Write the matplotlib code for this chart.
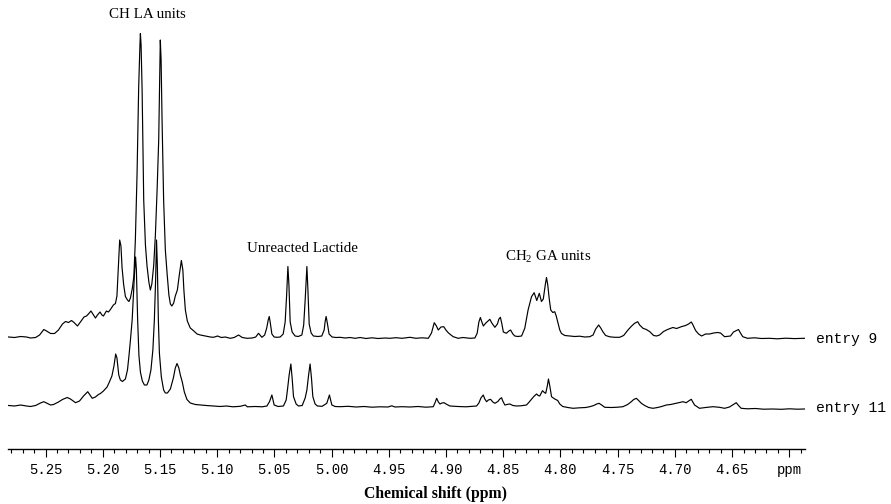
import matplotlib
matplotlib.use("Agg")
import matplotlib.pyplot as plt
from matplotlib.ticker import FixedLocator, MultipleLocator

# ---------------- data ----------------
# entry 9 trace: chemical shift (ppm) and intensity (arbitrary units, baseline = 0)
entry9_ppm = [5.2823, 5.2771, 5.2718, 5.2666, 5.2631, 5.2587, 5.2552, 5.2515, 5.2491, 5.2456,
              5.2421, 5.2387, 5.2352, 5.2325, 5.2299, 5.2273, 5.2251, 5.2221, 5.2195, 5.2164,
              5.2142, 5.2125, 5.2103, 5.2086, 5.2064, 5.2046, 5.2024, 5.2007, 5.1994, 5.1968,
              5.1950, 5.1933, 5.1907, 5.1889, 5.1876, 5.1863, 5.1852, 5.1841, 5.1831, 5.1817,
              5.1802, 5.1784, 5.1771, 5.1758, 5.1741, 5.1728, 5.1715, 5.1700, 5.1686, 5.1675,
              5.1671, 5.1665, 5.1656, 5.1642, 5.1627, 5.1613, 5.1597, 5.1584, 5.1571, 5.1555,
              5.1540, 5.1525, 5.1511, 5.1503, 5.1497, 5.1490, 5.1482, 5.1468, 5.1453, 5.1438,
              5.1422, 5.1409, 5.1396, 5.1380, 5.1366, 5.1348, 5.1331, 5.1313, 5.1300, 5.1291,
              5.1278, 5.1261, 5.1235, 5.1204, 5.1176, 5.1147, 5.1104, 5.1060, 5.1031, 5.0997,
              5.0964, 5.0929, 5.0886, 5.0851, 5.0813, 5.0781, 5.0740, 5.0694, 5.0663, 5.0639,
              5.0609, 5.0585, 5.0567, 5.0554, 5.0545, 5.0537, 5.0522, 5.0502, 5.0478, 5.0449,
              5.0423, 5.0406, 5.0393, 5.0382, 5.0373, 5.0362, 5.0345, 5.0319, 5.0292, 5.0260,
              5.0244, 5.0231, 5.0216, 5.0207, 5.0196, 5.0179, 5.0159, 5.0118, 5.0086, 5.0065,
              5.0057, 5.0048, 5.0039, 5.0022, 4.9996, 4.9961, 4.9926, 4.9882, 4.9839, 4.9795,
              4.9751, 4.9699, 4.9647, 4.9594, 4.9533, 4.9490, 4.9437, 4.9385, 4.9315, 4.9263,
              4.9210, 4.9155, 4.9127, 4.9103, 4.9084, 4.9068, 4.9044, 4.9020, 4.9001, 4.8981,
              4.8957, 4.8937, 4.8894, 4.8853, 4.8791, 4.8748, 4.8728, 4.8713, 4.8700, 4.8687,
              4.8674, 4.8652, 4.8617, 4.8600, 4.8573, 4.8551, 4.8538, 4.8525, 4.8512, 4.8499,
              4.8473, 4.8451, 4.8436, 4.8416, 4.8399, 4.8373, 4.8340, 4.8312, 4.8283, 4.8253,
              4.8230, 4.8207, 4.8185, 4.8166, 4.8150, 4.8133, 4.8122, 4.8111, 4.8099, 4.8085,
              4.8067, 4.8050, 4.8037, 4.8021, 4.8006, 4.7991, 4.7962, 4.7919, 4.7875, 4.7832,
              4.7788, 4.7744, 4.7715, 4.7692, 4.7666, 4.7648, 4.7628, 4.7605, 4.7570, 4.7526,
              4.7483, 4.7448, 4.7410, 4.7378, 4.7352, 4.7325, 4.7308, 4.7279, 4.7250, 4.7221,
              4.7186, 4.7160, 4.7134, 4.7099, 4.7064, 4.7018, 4.6985, 4.6944, 4.6907, 4.6880,
              4.6857, 4.6846, 4.6819, 4.6793, 4.6767, 4.6732, 4.6697, 4.6662, 4.6627, 4.6601,
              4.6566, 4.6514, 4.6488, 4.6462, 4.6444, 4.6427, 4.6407, 4.6366, 4.6305, 4.6243,
              4.6174, 4.6104, 4.6034, 4.5955, 4.5868]
entry9_int = [0.5, 0, 1, 0.5, -0.5, 0, 2.5, 8, 6.5, 4,
              4, 7.5, 13.5, 16, 15, 17, 15, 11.5, 15.5, 20.5,
              21.5, 23.5, 26.5, 23.5, 19.5, 22.5, 25.5, 22.5, 21.5, 26.5,
              25.5, 28, 32.5, 34, 41.5, 72.5, 97.5, 91.5, 69.5, 52.5,
              41, 37.5, 36, 39.5, 49.5, 61.5, 97.5, 164.5, 250.5, 292.5,
              304, 292.5, 247.5, 137.5, 92.5, 71.5, 55.5, 47.5, 53.5, 71.5,
              102.5, 147.5, 197.5, 257.5, 297.5, 277.5, 219.5, 137.5, 87.5, 64.5,
              42.5, 33.5, 31.5, 34.5, 41.5, 47.5, 62.5, 77, 67.5, 47.5,
              27.5, 16.5, 9.5, 6.5, 3.5, 2.5, 1.5, 0.5, 0.2, 1.5,
              0, 0.5, -0.8, 0, 2.5, 0, -0.8, -0.5, 0.5, 4.2,
              0.2, 2.5, 9.5, 17.5, 21, 15.5, 3.5, 0.5, 0.2, 0.5,
              3.5, 15.5, 42.5, 71, 52.5, 15.5, 5.5, 1.5, 1, 2.5,
              12.5, 37.5, 71, 47.5, 13.5, 4.5, 1.5, 1, 1.5, 7.5,
              15.5, 21, 15.5, 3.5, 0.5, 0, 0.2, -0.5, 0, -0.8,
              0, -1, -0.3, -1, -0.5, -0.8, -0.2, -0.8, 0.2, -0.8,
              -0.3, -0.8, 4.5, 14.8, 11.5, 7.5, 10.5, 10.8, 7.5, 4.8,
              2.5, 0.8, -0.8, 0, -0.8, -0.5, 4.2, 15.5, 20, 15.5,
              11.5, 14.5, 18.2, 14.5, 10.2, 13.5, 18.5, 20.2, 13.5, 5.5,
              4.2, 6.5, 7.5, 3.5, 1.5, 1, 1.5, 9.2, 27.5, 40.8,
              44.8, 37, 44.2, 36, 38.5, 52.5, 60, 52.5, 39.5, 27.5,
              25, 25.8, 21.5, 14.2, 7.5, 4, 2, 1.5, 1, 1.3,
              0.5, 0.8, 2.5, 8.5, 12.5, 9.5, 5.5, 2, 0.7, 0.2,
              0.2, 2, 7.5, 11.5, 14.2, 15.8, 12.5, 9.2, 8, 6,
              2, 1.5, 2.5, 6, 8, 10, 9, 10.8, 12, 13.5,
              15.5, 13.5, 7, 3.5, 1.5, 3.5, 3.5, 4.5, 5, 4.5,
              0.8, 1.5, 5.5, 7, 8, 4.5, 0.8, -0.8, -0.3, -1,
              -0.8, -1.3, -0.7, -1.1, -0.8]

# entry 11 trace
entry11_ppm = [5.2823, 5.2771, 5.2718, 5.2666, 5.2631, 5.2587, 5.2544, 5.2515, 5.2483, 5.2456,
               5.2430, 5.2387, 5.2352, 5.2311, 5.2282, 5.2238, 5.2203, 5.2168, 5.2131, 5.2112,
               5.2092, 5.2064, 5.2038, 5.2020, 5.1994, 5.1962, 5.1942, 5.1920, 5.1902, 5.1887,
               5.1876, 5.1860, 5.1846, 5.1828, 5.1802, 5.1784, 5.1771, 5.1758, 5.1743, 5.1732,
               5.1721, 5.1713, 5.1706, 5.1695, 5.1684, 5.1671, 5.1654, 5.1636, 5.1614, 5.1597,
               5.1579, 5.1562, 5.1549, 5.1538, 5.1530, 5.1523, 5.1514, 5.1505, 5.1488, 5.1468,
               5.1453, 5.1435, 5.1409, 5.1383, 5.1366, 5.1351, 5.1335, 5.1322, 5.1305, 5.1287,
               5.1264, 5.1235, 5.1191, 5.1147, 5.1095, 5.1031, 5.0973, 5.0921, 5.0860, 5.0798,
               5.0755, 5.0737, 5.0667, 5.0606, 5.0565, 5.0543, 5.0522, 5.0502, 5.0467, 5.0421,
               5.0397, 5.0386, 5.0371, 5.0356, 5.0345, 5.0333, 5.0310, 5.0290, 5.0257, 5.0231,
               5.0216, 5.0201, 5.0188, 5.0176, 5.0164, 5.0144, 5.0124, 5.0083, 5.0042, 5.0019,
               4.9998, 4.9969, 4.9926, 4.9856, 4.9786, 4.9716, 4.9647, 4.9577, 4.9507, 4.9475,
               4.9446, 4.9385, 4.9315, 4.9245, 4.9175, 4.9112, 4.9097, 4.9082, 4.9067, 4.9053,
               4.9036, 4.9018, 4.8992, 4.8966, 4.8896, 4.8826, 4.8733, 4.8713, 4.8695, 4.8675,
               4.8661, 4.8646, 4.8630, 4.8611, 4.8591, 4.8573, 4.8547, 4.8530, 4.8515, 4.8504,
               4.8486, 4.8460, 4.8442, 4.8416, 4.8384, 4.8346, 4.8297, 4.8277, 4.8253, 4.8233,
               4.8209, 4.8194, 4.8181, 4.8168, 4.8157, 4.8141, 4.8129, 4.8115, 4.8105, 4.8093,
               4.8078, 4.8050, 4.8024, 4.8006, 4.7980, 4.7936, 4.7890, 4.7832, 4.7779, 4.7744,
               4.7709, 4.7683, 4.7663, 4.7640, 4.7613, 4.7552, 4.7500, 4.7454, 4.7413, 4.7381,
               4.7360, 4.7337, 4.7317, 4.7293, 4.7264, 4.7229, 4.7192, 4.7151, 4.7116, 4.7075,
               4.7037, 4.6988, 4.6959, 4.6930, 4.6901, 4.6880, 4.6857, 4.6846, 4.6828, 4.6802,
               4.6785, 4.6732, 4.6668, 4.6610, 4.6566, 4.6523, 4.6488, 4.6464, 4.6444, 4.6421,
               4.6366, 4.6296, 4.6226, 4.6147, 4.6069, 4.6000, 4.5929, 4.5868]
entry11_int = [1, 0.5, 1.5, 0.5, 0, 1, 3.5, 4.8, 3, 1.5,
               2, 4.5, 7, 9, 7.5, 3.8, 5.5, 10.5, 14.8, 11.5,
               8.2, 9.5, 12, 13, 15.5, 19.5, 24.5, 30.5, 40.5, 52.5,
               48.5, 31.5, 26.5, 25, 27.5, 36.5, 50.5, 66.5, 86.5, 111.5,
               136.5, 149.5, 136.5, 86.5, 51.5, 34.5, 25.5, 21.5, 21.5, 26.5,
               36.5, 56.5, 86.5, 126.5, 166.5, 141.5, 86.5, 53.5, 29.5, 16.5,
               13.5, 13.5, 17.5, 28.5, 38.5, 43, 38.5, 31.5, 24.5, 14.5,
               7, 3.5, 2, 1.5, 1, 0.5, 0, 0.5, -0.3, 0.2,
               1.5, -0.3, 0, -0.3, 0.5, 4.8, 11.5, 1.5, 0, 0.5,
               6.5, 16.5, 31.5, 42.5, 28.5, 9.8, 2.5, 0.5, 1, 8.5,
               16.5, 31.5, 42.5, 28.5, 9.8, 2.5, 0.5, 0.2, 3.2, 11.5,
               1.5, 0, -0.2, 0.2, -0.5, 0, -0.7, -0.3, -0.5, 0.7,
               -0.5, -0.2, -0.5, 0, -0.7, -0.2, 3.5, 8.2, 4.5, 2.5,
               3.5, 3.8, 2, 0.5, 0, -0.3, 0.5, 3.5, 8.5, 11.5,
               7.5, 4.8, 6.5, 7.2, 4.5, 3.2, 5, 7.5, 8.8, 5.5,
               1.5, 2.2, 2.5, 1, 0.5, 0.7, 1.5, 4, 7.2, 10,
               12.5, 11, 10.5, 13.5, 15.8, 14, 13.2, 20.5, 27.5, 20.5,
               9.8, 7.5, 6, 2.5, 0, -1, -1.8, -1.3, -1, -0.2,
               1, 2.5, 3.2, 1.5, -0.8, -1, -0.7, -0.2, 2, 4.8,
               7, 8.2, 6, 3.2, 1, -1, -1.8, -1, 0, 1.5,
               2, 3.2, 4, 4.8, 3.8, 5.5, 7.2, 5, 1.5, -0.5,
               -1.8, -1, -0.2, -0.8, -1.8, -0.5, 2, 3.8, 1, -1.8,
               -2.3, -2, -2.7, -2.5, -2.8, -2.3, -2.7, -2.5]

trace_labels = ["entry 9", "entry 11"]
tick_values = [5.25, 5.20, 5.15, 5.10, 5.05, 5.00, 4.95, 4.90, 4.85, 4.80, 4.75, 4.70, 4.65, 4.60]
tick_labels = ["5.25", "5.20", "5.15", "5.10", "5.05", "5.00", "4.95", "4.90", "4.85",
               "4.80", "4.75", "4.70", "4.65", "ppm"]
annotations = [("CH LA units", 5.1613, 434.0),
               ("Unreacted Lactide", 5.0257, 200.7),
               (r"CH$_2$ GA units", 4.8111, 191.7)]

# ---------------- styling / layout ----------------
plt.rcParams["mathtext.fontset"] = "custom"
plt.rcParams["mathtext.rm"] = "Liberation Serif"
plt.rcParams["mathtext.it"] = "Liberation Serif:italic"
plt.rcParams["mathtext.bf"] = "Liberation Serif:bold"
plt.rcParams["mathtext.default"] = "rm"

W, H = 891, 504
fig = plt.figure(figsize=(W / 100, H / 100), dpi=100)
fig.patch.set_facecolor("white")

ax_left, ax_right, ax_bottom = 8, 805, 449
ax = fig.add_axes([ax_left / W, (H - ax_bottom) / H, (ax_right - ax_left) / W, ax_bottom / H])
ax.set_xlim(5.2828, 4.5863)
ax.set_ylim(0, 449)

offsets = [111.5, 42.5]
for ppm, inten, off in zip([entry9_ppm, entry11_ppm], [entry9_int, entry11_int], offsets):
    ax.plot(ppm, [v + off for v in inten], color="black", lw=0.85, solid_joinstyle="round")

for label, off in zip(trace_labels, offsets):
    ax.text(4.5768, off - 1.5, label, family="Liberation Mono", fontsize=10.5,
            ha="left", va="center", clip_on=False)

for txt, x, y in annotations:
    ax.text(x, y, txt, family="Liberation Serif", fontsize=10.8, ha="center", va="center")

for s in ["top", "left", "right"]:
    ax.spines[s].set_visible(False)
ax.spines["bottom"].set_linewidth(1.0)
ax.yaxis.set_visible(False)
ax.xaxis.set_major_locator(FixedLocator(tick_values))
ax.xaxis.set_minor_locator(MultipleLocator(0.01))
ax.set_xticklabels(tick_labels, family="Liberation Mono", fontsize=10)
ax.tick_params(axis="x", which="major", direction="out", length=5.5, width=0.8, pad=4.5)
ax.tick_params(axis="x", which="minor", direction="out", length=3.0, width=0.8)
ax.patch.set_visible(False)

fig.text(435 / W, (H - 494) / H, "Chemical shift (ppm)", family="Liberation Serif",
         fontsize=11.3, fontweight="bold", ha="center", va="center")

fig.savefig("out.png", dpi=100)
